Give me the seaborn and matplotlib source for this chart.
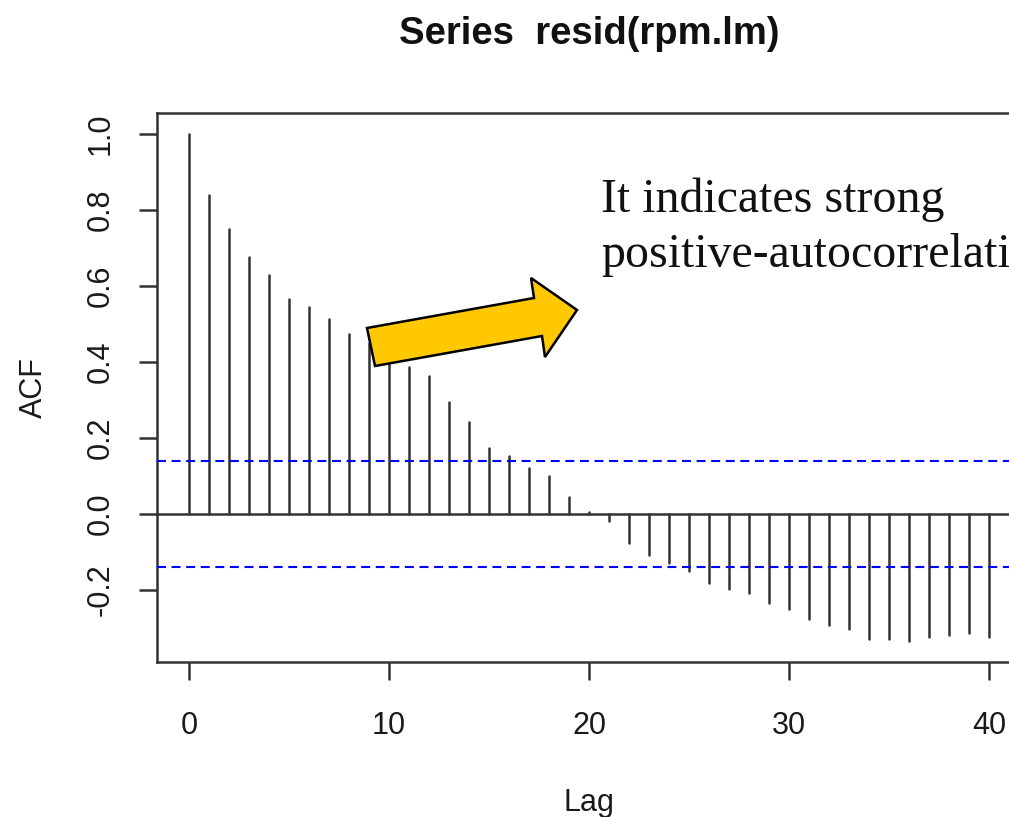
import numpy as np
import pandas as pd
import matplotlib
matplotlib.use("Agg")
import matplotlib.pyplot as plt
from matplotlib.patches import Polygon
import seaborn as sns

# ---- data ----
lags = list(range(0, 41))
acf_values = [1.000, 0.839, 0.749, 0.675, 0.628, 0.565, 0.544, 0.512, 0.475, 0.450,
              0.420, 0.386, 0.364, 0.295, 0.242, 0.174, 0.153, 0.122, 0.100, 0.044,
              0.006, -0.018, -0.075, -0.108, -0.129, -0.150, -0.182, -0.197, -0.208, -0.234,
              -0.250, -0.276, -0.292, -0.303, -0.329, -0.329, -0.334, -0.323, -0.318, -0.313,
              -0.323]
conf_limit = 0.139
title_text = "Series  resid(rpm.lm)"
x_ticks = [0, 10, 20, 30, 40]
y_ticks = [-0.2, 0.0, 0.2, 0.4, 0.6, 0.8, 1.0]
y_tick_labels = ["-0.2", "0.0", "0.2", "0.4", "0.6", "0.8", "1.0"]
note_lines = ["It indicates strong", "positive-autocorrelation"]

sns.set_theme(style="white")
plt.rcParams["font.family"] = ["Liberation Sans", "DejaVu Sans"]
plt.rcParams["axes.unicode_minus"] = False

W, H = 1009, 817
fig = plt.figure(figsize=(W / 100, H / 100), dpi=100)
fig.patch.set_facecolor("white")

# axes box in pixels: left 157, right 1021 (beyond the figure), top 113, bottom 662
L, R, T, B = 157, 1021, 113, 662
ax = fig.add_axes([L / W, 1 - B / H, (R - L) / W, (B - T) / H])
ax.set_facecolor("white")

# stems as long-format data
stem_df = pd.DataFrame({
    "lag": np.repeat(lags, 2),
    "acf": np.ravel([[0.0, v] for v in acf_values]),
})
sns.lineplot(data=stem_df, x="lag", y="acf", units="lag", estimator=None,
             color="#333333", linewidth=1.8, ax=ax, legend=False)

ax.axhline(0, color="#333333", linewidth=1.8, zorder=3)
for c in (conf_limit, -conf_limit):
    ax.axhline(c, color="#0000ff", linewidth=1.5, linestyle=(0, (4.3, 2.7)), zorder=3)

ax.set_xlim(-1.6, 41.6)
ax.set_ylim(-0.389, 1.055)

for s in ax.spines.values():
    s.set_visible(True)
    s.set_color("#333333")
    s.set_linewidth(1.8)

ax.set_xticks(x_ticks)
ax.set_xticklabels([str(t) for t in x_ticks])
ax.set_yticks(y_ticks)
ax.set_yticklabels(y_tick_labels, rotation=90, va="center")
ax.tick_params(axis="both", which="major", direction="out", length=13, width=1.8,
               color="#333333", labelsize=22, labelcolor="#1a1a1a",
               bottom=True, left=True)
ax.tick_params(axis="x", pad=22)
ax.tick_params(axis="y", pad=17)

ax.set_xlabel("Lag", fontsize=22, color="#1a1a1a")
ax.xaxis.set_label_coords(0.5, -(811 - B) / (B - T))
ax.xaxis.label.set_va("baseline")
ax.set_ylabel("ACF", fontsize=22, color="#1a1a1a")
ax.yaxis.set_label_coords(-(L - 34) / (R - L), 0.5)
ax.yaxis.label.set_va("center")
ax.yaxis.label.set_ha("center")

ax.set_title(title_text, fontsize=27.5, fontweight="bold", pad=50, color="#111111")

# annotation arrow (overlay)
arrow_px = [(367, 328), (375, 366), (542, 336), (545, 357), (577, 310),
            (531, 278), (534, 298)]
arrow_pts = [(x / W, 1 - y / H) for x, y in arrow_px]
fig.patches.append(Polygon(arrow_pts, closed=True, transform=fig.transFigure,
                           facecolor="#ffc800", edgecolor="black", linewidth=1.8,
                           joinstyle="miter", zorder=10))

fig.text(601 / W, 1 - 212 / H, note_lines[0], family=["Liberation Serif", "DejaVu Serif"],
         fontsize=34.5, va="baseline", ha="left", color="#111111", zorder=11)
fig.text(601 / W, 1 - 267 / H, note_lines[1], family=["Liberation Serif", "DejaVu Serif"],
         fontsize=34.5, va="baseline", ha="left", color="#111111", zorder=11)

fig.savefig("out.png", dpi=100, facecolor="white")
